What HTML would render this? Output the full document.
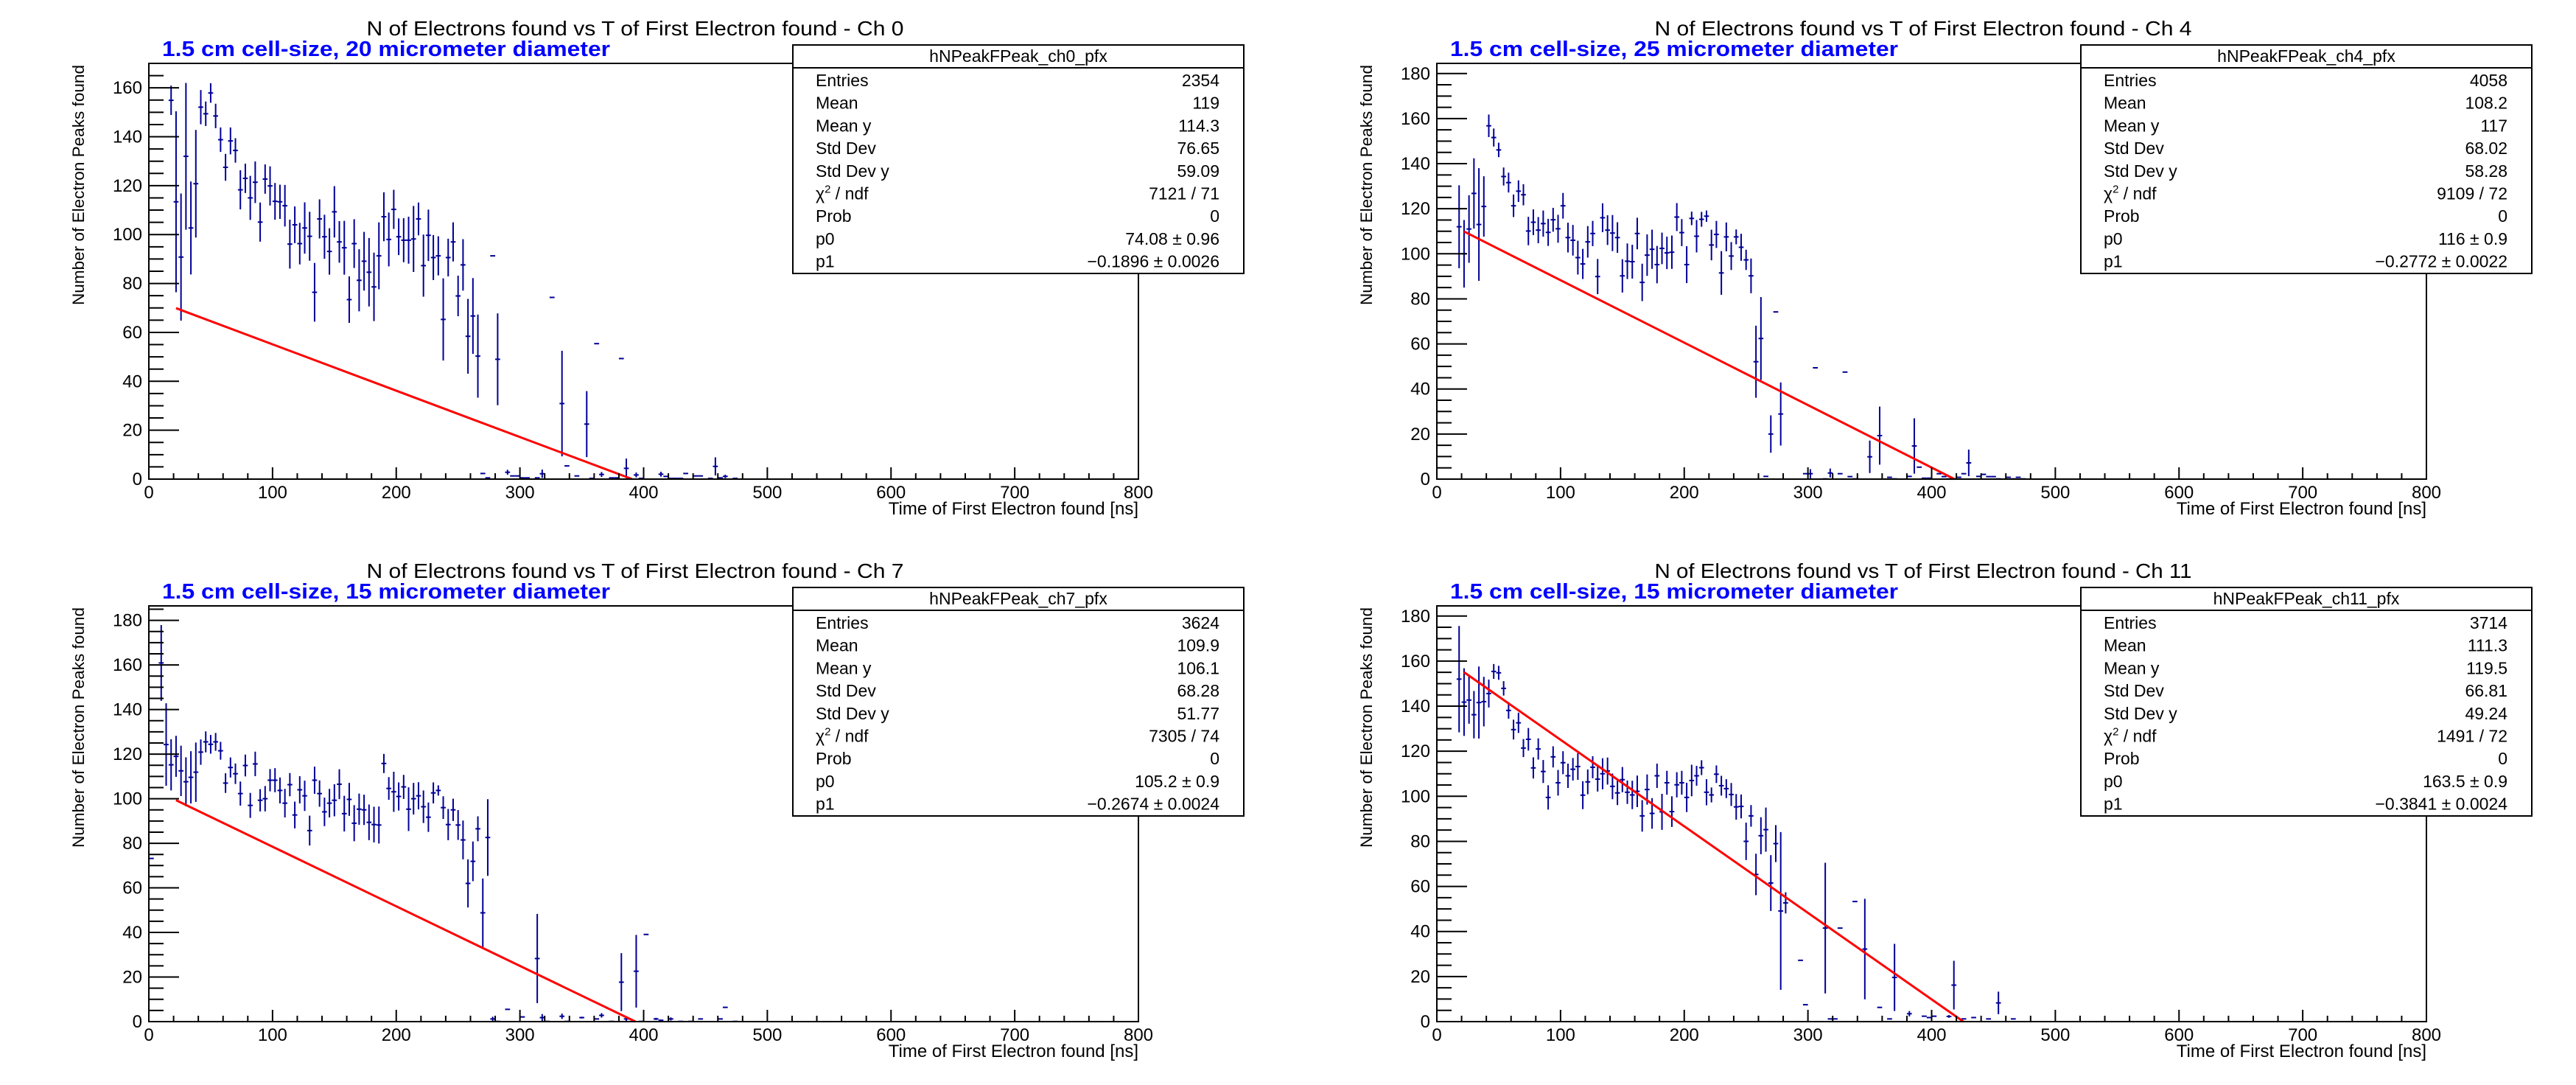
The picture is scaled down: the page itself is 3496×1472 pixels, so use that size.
<!DOCTYPE html>
<html><head><meta charset="utf-8"><style>
html,body{margin:0;padding:0;background:#fff}
svg{display:block}
text{font-family:"Liberation Sans",sans-serif}
</style></head><body>
<svg id="c" width="3496" height="1472" viewBox="0 0 3496 1472" xmlns="http://www.w3.org/2000/svg"><rect width="3496" height="1472" fill="#fff"/></svg>
<script>
const p0x=[18,22,26,30,34,38,42,46,50,54,58,62,66,70,74,78,82,86,90,94,98,102,106,110,114,118,122,126,130,134,138,142,146,150,154,158,162,166,170,174,178,182,186,190,194,198,202,206,210,214,218,222,226,230,234,238,242,246,250,254,258,262,266,270,274,278,282,290,294,298,302,306,314,318,326,334,338,346,354,358,362,366,374,378,382,386,394,398,414,418,422,426,430,434,442,446,454,458,462,466,474];
const p0y=[154.9,113.4,90.8,132,102.7,120.8,152.1,149.4,157.9,148.5,138.8,127.5,138.3,134.4,118.3,123,115,121.4,105.1,122.7,119.9,113.6,113.4,111.8,96.1,104,96.3,102.7,99.3,76.4,106.4,99.1,93.1,109.3,97,94.6,73.4,96.3,81.3,89.1,84.6,78.6,91.3,107.3,98,110.3,99.1,97.7,97.7,98.2,106.4,87.3,99.7,90.6,91.3,65.3,90.6,97,74.9,87.6,58.4,66.7,50.3,2.3,0.5,91.3,49,2.8,1.3,1.3,0.5,0.5,0.5,2.2,74.3,30.9,5.4,1.3,22.5,0.3,55.4,1.9,0.5,0.5,49.3,4.4,1.7,0.3,2,1.1,0.3,0.3,0.3,2.3,1.3,1.3,0.3,5.2,0.5,1.1,0.3];
const p0e=[6,37,26,30,19,22,7,5,4,5,5,5.5,5.5,5,8,6,9,8.5,8,6,8,7.5,7,8.5,10,7.5,8.5,10.5,10,12,8,9,9.5,10.5,8.5,11,9.5,10,12.7,12,14,14,13.7,10,11,8,7.5,9,9.6,13.5,6.7,12.7,10.5,9.2,8,16.8,7.7,8,8.3,10.5,15.3,15.5,17,0,0,0,18.8,1,0,0,0,0,0,1.7,0,21.6,0,0,13.5,0,0,1,0,0,0,4,1,0,1,0,0,0,0,0,0,0,0,3.7,0,0.7,0];

const p1x=[18,22,26,30,34,38,42,46,50,54,58,62,66,70,74,78,82,86,90,94,98,102,106,110,114,118,122,126,130,134,138,142,146,150,154,158,162,166,170,174,178,182,186,190,194,198,202,206,210,214,218,222,226,230,234,238,242,246,250,254,258,262,266,270,274,278,298,302,306,314,318,326,330,334,338,350,358,366,370,382,386,390,394,398,406,410,414,418,422,426,430,438,442,446,450,454,462,466,470,474];
const p1y=[112,100,111,126.8,113,121,156.8,151.6,146.1,134.3,131.6,121.3,127.8,126.2,110.1,114,110.5,113.4,109.5,115.1,111.1,121.3,107.2,106,98.3,95.5,105.3,109,89.9,116,110.5,109.2,107.2,90.2,96.7,96.5,109,87.3,99.4,102,95.2,102.4,100.4,100.7,116.3,109.4,95.2,115.7,107.8,115.3,116.7,103.9,108.6,91.5,107.5,99,107.5,102.9,97.3,90.2,52.1,62.4,1.2,20,74.2,28.9,2.4,2.4,49.4,0.1,2.7,2.4,47.5,1.1,0.1,9.9,19.3,0.8,0.1,1.2,14.7,5.3,0.4,0.4,2.4,1.1,0.1,0.1,0.8,2.4,7.2,1.2,2.1,1.1,1.1,0.1,0.8,0.1,0.8,0.1];
const p1e=[18.4,15,15,15.6,25,13.4,5,4,3.2,4,4.4,5,4.8,4.7,6.3,5.7,5.8,5.8,6,5.3,6.2,5.7,6.6,6.8,7.5,6.7,7,5.6,7.8,6.4,6.6,8,6.8,7.4,7.9,7.5,7,8.3,9.2,8.7,8.3,7,7.2,7.4,6.2,6,8.2,3,7.2,3.3,2.5,6.8,6,9.7,6.4,6.2,3.3,6,4.5,7.7,16,18.4,0,8.3,0,14,0,2,0,0,2,0,0,0,0,7.2,12.9,0,0,0,12.3,0,0,0,0,0,0,0,0,0,5.9,0,0,0,0,0,0,0,0,0];

const p2x=[2,10,14,18,22,26,30,34,38,42,46,50,54,58,62,66,70,74,78,82,86,90,94,98,102,106,110,114,118,122,126,130,134,138,142,146,150,154,158,162,166,170,174,178,182,186,190,194,198,202,206,210,214,218,222,226,230,234,238,242,246,250,254,258,262,266,270,274,278,282,290,302,314,318,322,334,338,350,362,366,374,382,386,394,398,402,410,414,422,430,438,446,462,466,474];
const p2y=[73.2,160.9,124.3,115.2,119,112.5,107.6,109.6,111.9,120.9,125.5,124.4,125.5,121.5,107,114,111.2,102.3,114.9,97,115.6,99.3,100,108.3,108.3,103.7,98,106.3,92.7,104,101.3,85.7,108.3,102.3,94.1,98,99.3,106.5,93.3,99.7,89,95.3,95,89.4,88.4,88.2,115.8,104.6,103.1,101,105.3,95.3,100,101.3,96.4,91.7,102.6,103.7,96,88.4,95,88.2,81.5,62,71.9,86.5,48.8,82.6,1.2,0.1,5.5,2.1,28.3,1.8,0.1,2.4,0.1,1.8,1.2,2.8,0.1,17.7,1.2,22.6,0.1,39.1,1.2,0.6,1.2,0.1,0.1,1.2,1.2,6.4,0.1];
const p2e=[0,17,18.5,11.5,9.2,11.3,11,11.7,13.3,5.7,4.7,4.2,4,4,4.4,4.5,4.6,5.4,4.9,5.6,5.5,5,5.7,5,5.4,5.8,6.4,5.2,6,6.1,6.8,6.7,6.1,5.9,6.4,6.4,7.2,6.7,8,7.4,8.1,7,6.8,8,8,8.3,4.3,5.1,9,6.3,5.4,9.8,7.1,6.1,7.3,6.6,4.7,2.3,5.1,7,5,6.7,8.7,10.8,8.9,5.6,15.4,17.2,1,0,0,0,20,1.6,0,1.2,0,0.4,0,1,0,13,1,16.3,0,0,0.5,0,0.7,0,0,0,0,0,0];

const p3x=[18,22,26,30,34,38,42,46,50,54,58,62,66,70,74,78,82,86,90,94,98,102,106,110,114,118,122,126,130,134,138,142,146,150,154,158,162,166,170,174,178,182,186,190,194,198,202,206,210,214,218,222,226,230,234,238,242,246,250,254,258,262,266,270,274,278,282,294,298,314,318,322,326,338,346,358,366,370,382,394,398,402,414,418,426,434,446,454,466];
const p3y=[152,141.8,142.7,136.2,141.6,142,145.6,155.4,154.8,147.9,138.1,129.6,132.6,121.4,125.3,112.6,121,111,99.5,117.5,106,114.9,109.1,112,113.2,100.5,106.4,112.9,107.6,110,111.2,104.4,101.5,107.4,101.8,100.6,102.2,91.3,103,92.4,109.1,93.1,106,93.2,105.1,106,99.5,107,109.1,112.7,101.8,100.6,109.8,104.7,103.4,100.8,95.3,95.5,80,91.3,65.3,82.5,85.2,61.5,79,49.1,52.7,27.2,7.5,41.5,1.2,1.2,41.5,53.3,32.2,6.3,1.2,19.6,3.5,2.4,1.8,2.4,2.3,16.2,1.2,1.8,1.2,8.3,1.2];
const p3e=[23.6,15,10.5,10.5,16,11,6.2,3.3,3.1,3.2,3.7,4.4,4.5,4,5,4.7,4.7,5.1,5.4,4.7,5.7,5.1,5.4,5,5.9,6.2,5.5,4.9,5.5,6.9,6,5.7,5.4,5.6,5.2,6.3,7,7,6.7,6.8,5.4,8,5.3,6.8,5.6,5.3,6.5,7,4.4,3.3,5.8,3.3,3.9,4.4,4.2,5.1,5.7,5.3,8.3,4.8,9.2,8.2,9.8,12.4,8.2,35,4.7,0,0,29,0,0,0,0,22.3,0,0,14.9,1.2,0,0,0,0.6,10.8,0,0,0,5,0];

const channels=["0","4","7","11"];
const subtitles=["1.5 cm cell-size, 20 micrometer diameter","1.5 cm cell-size, 25 micrometer diameter","1.5 cm cell-size, 15 micrometer diameter","1.5 cm cell-size, 15 micrometer diameter"];
const yMaxes=[170,184.5,186.5,184.5];
const fitP0=[74.08,116,105.2,163.5];
const fitP1=[-0.1896,-0.2772,-0.2674,-0.3841];
const fitXmin=[22,22,22,22];
const statEntries=["2354","4058","3624","3714"];
const statMean=["119","108.2","109.9","111.3"];
const statMeanY=["114.3","117","106.1","119.5"];
const statStd=["76.65","68.02","68.28","66.81"];
const statStdY=["59.09","58.28","51.77","49.24"];
const statChi=["7121 / 71","9109 / 72","7305 / 74","1491 / 72"];
const statP0=["74.08 \u00b1 0.96","116 \u00b1 0.9","105.2 \u00b1 0.9","163.5 \u00b1 0.9"];
const statP1=["\u22120.1896 \u00b1 0.0026","\u22120.2772 \u00b1 0.0022","\u22120.2674 \u00b1 0.0024","\u22120.3841 \u00b1 0.0024"];
const xTicks=[0,100,200,300,400,500,600,700,800];
const allX=[p0x,p1x,p2x,p3x], allY=[p0y,p1y,p2y,p3y], allE=[p0e,p1e,p2e,p3e];

const NS="http://www.w3.org/2000/svg";
const svg=document.getElementById('c');
function mk(tag,attrs,parent){const e=document.createElementNS(NS,tag);for(const k in attrs)e.setAttribute(k,attrs[k]);(parent||svg).appendChild(e);return e;}
const offs=[[0,0],[1748,0],[0,736],[1748,736]];
const XL=202,XR=1545,YT=86,YB=650,XMAX=800;
for(let p=0;p<4;p++){
  const ox=offs[p][0],oy=offs[p][1],ymax=yMaxes[p];
  const g=mk('g',{});
  
  
  const xs=v=>ox+XL+v*(XR-XL)/XMAX;
  const ys=v=>oy+YB-v*(YB-YT)/ymax;
  const clipY=v=>Math.max(YT+oy,Math.min(YB+oy,v));
  // title
  const t=mk('text',{x:ox+862,y:oy+48,'text-anchor':'middle','font-size':28,textLength:729,lengthAdjust:'spacingAndGlyphs'},g);
  t.textContent='N of Electrons found vs T of First Electron found - Ch '+channels[p];
  
  
  const st=mk('text',{x:ox+220,y:oy+76,'font-size':29,'font-weight':'bold',fill:'#0000ff',textLength:608,lengthAdjust:'spacingAndGlyphs'},g);
  st.textContent=subtitles[p];
  
  
  // data group
  const dg=mk('g',{stroke:'#000096','stroke-width':2,fill:'none'},g);
  
  
  const X=allX[p],Y=allY[p],E=allE[p];
  for(let i=0;i<X.length;i++){
    const cx=xs(X[i]),cy=ys(Y[i]);
    const h=mk('line',{x1:xs(X[i]-2),x2:xs(X[i]+2),y1:cy,y2:cy},dg);
    
    
    if(E[i]>0){
      const v=mk('line',{x1:cx,x2:cx,y1:clipY(ys(Y[i]+E[i])),y2:clipY(ys(Y[i]-E[i]))},dg);
      
      
    }
  }
  // fit line
  const xEnd=Math.min(XMAX,-fitP0[p]/fitP1[p]);
  const fl=mk('line',{x1:xs(fitXmin[p]),y1:ys(fitP0[p]+fitP1[p]*fitXmin[p]),x2:xs(xEnd),y2:ys(Math.max(0,fitP0[p]+fitP1[p]*xEnd)),stroke:'#ff0000','stroke-width':3},g);
  
  
  // frame
  const fr=mk('rect',{x:ox+XL,y:oy+YT,width:XR-XL,height:YB-YT,fill:'none',stroke:'#000','stroke-width':2},g);
  
  
  // y ticks
  const ya=mk('g',{stroke:'#000','stroke-width':2},g);
  
  
  for(let v=0;v<=ymax;v+=5){
    const major=(v%20===0);
    mk('line',{x1:ox+XL,x2:ox+XL+(major?41:20),y1:ys(v),y2:ys(v)},ya);
    if(major){
      const tl=mk('text',{x:ox+193,y:ys(v)+8,'text-anchor':'end','font-size':24,stroke:'none',fill:'#000'},g);
      tl.textContent=String(v);
      
      
    }
  }
  // x ticks
  const xa=mk('g',{stroke:'#000','stroke-width':2},g);
  
  
  for(let v=0;v<=XMAX;v+=20){
    const major=(v%100===0);
    mk('line',{x1:xs(v),x2:xs(v),y1:oy+YB,y2:oy+YB-(major?16:8)},xa);
  }
  for(const v of xTicks){
    const tl=mk('text',{x:xs(v),y:oy+676,'text-anchor':'middle','font-size':24},g);
    tl.textContent=String(v);
    
    
  }
  const xt=mk('text',{x:ox+XR,y:oy+698,'text-anchor':'end','font-size':24},g);
  xt.textContent='Time of First Electron found [ns]';
  
  
  const yt=mk('text',{x:0,y:0,'text-anchor':'end','font-size':22,transform:'translate('+(ox+114)+','+(oy+88)+') rotate(-90)',textLength:326,lengthAdjust:'spacingAndGlyphs'},g);
  yt.textContent='Number of Electron Peaks found';
  
  
  // stats box
  const sb=mk('g',{},g);
  
  
  mk('rect',{x:ox+1076,y:oy+61,width:612,height:310,fill:'#fff',stroke:'#000','stroke-width':2},sb);
  mk('line',{x1:ox+1076,x2:ox+1688,y1:oy+92,y2:oy+92,stroke:'#000','stroke-width':2},sb);
  const hd=mk('text',{x:ox+1382,y:oy+84,'text-anchor':'middle','font-size':23},sb);
  hd.textContent='hNPeakFPeak_ch'+channels[p]+'_pfx';
  
  
  const labels=['Entries','Mean','Mean y','Std Dev','Std Dev y','CHI','Prob','p0','p1'];
  const vals=[statEntries[p],statMean[p],statMeanY[p],statStd[p],statStdY[p],statChi[p],'0',statP0[p],statP1[p]];
  for(let r=0;r<9;r++){
    const yy=oy+117+r*30.7;
    const l=mk('text',{x:ox+1107,y:yy,'font-size':23},sb);
    if(labels[r]==='CHI'){l.innerHTML='\u03c7<tspan dy="-9" font-size="15">2</tspan><tspan dy="9"> / ndf</tspan>';}
    else l.textContent=labels[r];
    
    
    const vv=mk('text',{x:ox+1655,y:yy,'text-anchor':'end','font-size':23},sb);
    vv.textContent=vals[r];
    
    
  }
}
</script>
</body></html>
